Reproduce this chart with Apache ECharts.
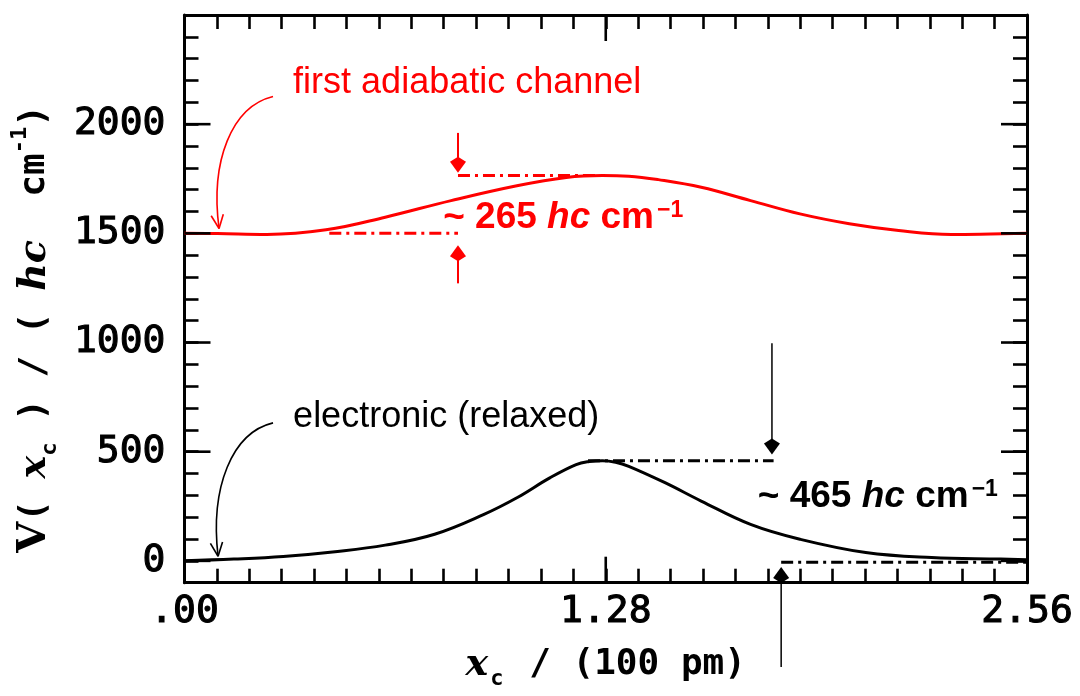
<!DOCTYPE html>
<html>
<head>
<meta charset="utf-8">
<script src="https://cdn.jsdelivr.net/npm/echarts@6/dist/echarts.min.js"></script>
<style>
  html, body { margin: 0; padding: 0; background: #fff; }
  #chart { width: 1080px; height: 696px; }
</style>
</head>
<body>
<div id="chart"></div>
<script>
// Reaction coordinate x_c in units of 100 pm, potentials V in hc cm^-1
const xLabelValues = [0, 1.28, 2.56];
const xLabelTexts = ['.00', '1.28', '2.56'];
const yLabelValues = [0, 500, 1000, 1500, 2000];

// first adiabatic channel
const adiabaticX = [0, 0.10, 0.25, 0.43, 0.61, 0.81, 1.01, 1.16, 1.27, 1.35, 1.44, 1.57, 1.72, 1.87, 2.02, 2.17, 2.33, 2.45, 2.56];
const adiabaticV = [1500, 1499, 1495, 1516, 1574, 1650, 1718, 1756, 1765, 1762, 1746, 1711, 1650, 1589, 1544, 1513, 1495, 1497, 1500];

// electronic (relaxed) potential
const electronicX = [0, 0.15, 0.30, 0.45, 0.61, 0.76, 0.91, 1.01, 1.11, 1.19, 1.23, 1.27, 1.31, 1.35, 1.46, 1.57, 1.72, 1.87, 2.07, 2.27, 2.48, 2.56];
const electronicV = [0, 8, 20, 41, 72, 122, 213, 289, 380, 441, 455, 459, 452, 433, 358, 274, 167, 99, 38, 15, 8, 5];

// barrier heights quoted in the annotations
const adiabaticBase = 1500;
const adiabaticBarrier = 265;
const electronicBase = -6;
const electronicBarrier = 465;

const RED = '#ff0000';
const BLACK = '#000000';

const xMin = 0, xMax = 2.56, xStep = 2.56 / 26;
const yMin = -100, yMax = 2500, yStep = 100;

const zip = (xs, ys) => xs.map((x, i) => [x, ys[i]]);

// annotation geometry, in data coordinates
const layout = {
  pointers: [
    { color: RED,   p: [[0.269, 2127], [0.144, 2081], [0.0775, 1832], [0.105, 1522]] },
    { color: BLACK, p: [[0.269, 632],  [0.144, 587],  [0.0775, 336],  [0.102, 21]] }
  ],
  gapArrows: [
    { color: RED,   x: 0.831, from: 1960, to: adiabaticBase + adiabaticBarrier + 13, w: 2 },
    { color: RED,   x: 0.831, from: 1271, to: adiabaticBase - 55, w: 2 },
    { color: BLACK, x: 1.785, from: 997,  to: electronicBase + electronicBarrier + 28, w: 1.5 },
    { color: BLACK, x: 1.813, from: -486, to: electronicBase - 22, w: 1.5 }
  ],
  levels: [
    { color: RED,   x0: 0.831, x1: 1.263, y: adiabaticBase + adiabaticBarrier },
    { color: RED,   x0: 0.44,  x1: 0.831, y: adiabaticBase },
    { color: BLACK, x0: 1.226, x1: 1.79,  y: electronicBase + electronicBarrier },
    { color: BLACK, x0: 1.813, x1: 2.56,  y: electronicBase }
  ],
  labels: [
    { at: [0.33, 2186], color: RED, text: 'first adiabatic channel' },
    { at: [0.33, 658], color: BLACK, text: 'electronic (relaxed)' }
  ],
  barrierLabels: [
    { at: [0.786, 1572], color: RED, value: adiabaticBarrier },
    { at: [1.742, 295], color: BLACK, value: electronicBarrier }
  ]
};

function line(a, b, style) {
  return { type: 'line', shape: { x1: a[0], y1: a[1], x2: b[0], y2: b[1] }, style: style };
}

function kiteHead(tail, tip, color) {
  const dx = tip[0] - tail[0], dy = tip[1] - tail[1];
  const L = Math.hypot(dx, dy) || 1;
  const ux = dx / L, uy = dy / L, nx = -uy, ny = ux;
  const w = 8, wb = 11, back = 16;
  return {
    type: 'polygon',
    shape: { points: [
      tip,
      [tip[0] - ux * wb + nx * w, tip[1] - uy * wb + ny * w],
      [tip[0] - ux * back, tip[1] - uy * back],
      [tip[0] - ux * wb - nx * w, tip[1] - uy * wb - ny * w]
    ] },
    style: { fill: color }
  };
}

function renderNotes(params, api) {
  const c = (p) => api.coord(p);
  const children = [];

  layout.levels.forEach(l => {
    children.push(line(c([l.x0, l.y]), c([l.x1, l.y]),
      { stroke: l.color, lineWidth: 3, lineDash: [12, 5, 3, 5] }));
  });

  layout.gapArrows.forEach(a => {
    const tail = c([a.x, a.from]), tip = c([a.x, a.to]);
    const dir = Math.sign(tip[1] - tail[1]);
    children.push(line(tail, [tip[0], tip[1] - dir * 12], { stroke: a.color, lineWidth: a.w }));
    children.push(kiteHead(tail, tip, a.color));
  });

  layout.pointers.forEach(pt => {
    const [p0, p1, p2, p3] = pt.p.map(c);
    children.push({
      type: 'bezierCurve',
      shape: { x1: p0[0], y1: p0[1], cpx1: p1[0], cpy1: p1[1], cpx2: p2[0], cpy2: p2[1], x2: p3[0], y2: p3[1] },
      style: { stroke: pt.color, lineWidth: 1.6, fill: null }
    });
    const dx = p3[0] - p2[0], dy = p3[1] - p2[1];
    const ang = Math.atan2(dy, dx);
    [0.42, -0.42].forEach(s => {
      const a = ang + Math.PI + s;
      children.push(line(p3, [p3[0] + 15 * Math.cos(a), p3[1] + 15 * Math.sin(a)],
        { stroke: pt.color, lineWidth: 1.6 }));
    });
  });

  layout.labels.forEach(t => {
    const p = c(t.at);
    children.push({
      type: 'text',
      style: { x: p[0], y: p[1], text: t.text, fill: t.color, align: 'left', verticalAlign: 'middle',
               font: '36px "Liberation Sans", Arial, sans-serif' }
    });
  });

  layout.barrierLabels.forEach(t => {
    const p = c(t.at);
    const base = { fill: t.color, fontFamily: '"Liberation Sans", Arial, sans-serif', fontWeight: 'bold' };
    children.push({
      type: 'text',
      style: {
        x: p[0], y: p[1], align: 'left', verticalAlign: 'middle',
        text: '{n|~ ' + t.value + ' }{i|hc}{n| cm}{s|\u22121}',
        rich: {
          n: Object.assign({ fontSize: 37 }, base),
          i: Object.assign({ fontSize: 37, fontStyle: 'italic' }, base),
          s: Object.assign({ fontSize: 23, verticalAlign: 'top', padding: [0, 0, 0, 3] }, base)
        }
      }
    });
  });

  return { type: 'group', children: children };
}

// longer ticks at the labelled values, on all four sides
function renderMajorTicks(params, api) {
  const children = [];
  const st = { stroke: BLACK, lineWidth: 2.6 };
  const len = 26;
  yLabelValues.forEach(v => {
    const l = api.coord([xMin, v]), r = api.coord([xMax, v]);
    children.push(line(l, [l[0] + len, l[1]], st));
    children.push(line(r, [r[0] - len, r[1]], st));
  });
  xLabelValues.slice(1, -1).forEach(v => {
    const b = api.coord([v, yMin]), t = api.coord([v, yMax]);
    children.push(line(b, [b[0], b[1] - len], st));
    children.push(line(t, [t[0], t[1] + len], st));
  });
  return { type: 'group', children: children };
}

const near = (a, b) => Math.abs(a - b) < 1e-6;
const monoFont = '"DejaVu Sans Mono", monospace';

const xAxisCommon = {
  type: 'value', min: xMin, max: xMax, interval: xStep,
  axisLine: { show: true, onZero: false, lineStyle: { color: BLACK, width: 3 } },
  axisTick: { show: true, inside: true, length: 14, lineStyle: { color: BLACK, width: 2.6 } },
  splitLine: { show: false }
};
const yAxisCommon = {
  type: 'value', min: yMin, max: yMax, interval: yStep,
  axisLine: { show: true, onZero: false, lineStyle: { color: BLACK, width: 3 } },
  axisTick: { show: true, inside: true, length: 14, lineStyle: { color: BLACK, width: 2.6 } },
  splitLine: { show: false }
};

const tickLabelStyle = {
  color: BLACK, fontFamily: monoFont, fontSize: 38,
  textBorderColor: BLACK, textBorderWidth: 1.1
};

const chart = echarts.init(document.getElementById('chart'), null, { renderer: 'canvas' });
chart.setOption({
  animation: false,
  backgroundColor: '#fff',
  grid: { left: 184.5, right: 53, top: 15, bottom: 113.3, containLabel: false },
  xAxis: [
    Object.assign({}, xAxisCommon, {
      position: 'bottom',
      axisLabel: Object.assign({
        margin: 10, showMinLabel: true, showMaxLabel: true,
        formatter: v => {
          const i = xLabelValues.findIndex(x => near(x, v));
          return i >= 0 ? xLabelTexts[i] : '';
        }
      }, tickLabelStyle),
      name: '{i|x}{sub|c}{m| / (100 pm)}',
      nameLocation: 'middle', nameGap: 56,
      nameTextStyle: {
        rich: {
          i: { fontFamily: '"DejaVu Serif", serif', fontStyle: 'italic', fontWeight: 'bold', fontSize: 38, lineHeight: 52, color: BLACK },
          sub: { fontFamily: monoFont, fontWeight: 'bold', fontSize: 22, verticalAlign: 'bottom', color: BLACK, padding: [0, 4, 0, 2] },
          m: { fontFamily: monoFont, fontWeight: 'bold', fontSize: 36, lineHeight: 52, color: BLACK }
        }
      }
    }),
    Object.assign({}, xAxisCommon, { position: 'top', axisLabel: { show: false } })
  ],
  yAxis: [
    Object.assign({}, yAxisCommon, {
      position: 'left',
      axisLabel: Object.assign({
        margin: 19,
        formatter: v => (yLabelValues.some(y => near(y, v)) ? String(v) : '')
      }, tickLabelStyle)
    }),
    Object.assign({}, yAxisCommon, { position: 'right', axisLabel: { show: false } })
  ],
  graphic: [{
    type: 'text', x: 35, y: 329, rotation: Math.PI / 2,
    style: {
      align: 'center', verticalAlign: 'middle',
      text: '{v|V}{m|( }{i|x}{sub|c}{m| ) / ( }{i|hc}{m|  cm}{sup|-1}{m|)}',
      rich: {
        v: { fontFamily: '"DejaVu Serif", serif', fontWeight: 'bold', fontSize: 40, lineHeight: 52, fill: BLACK },
        i: { fontFamily: '"DejaVu Serif", serif', fontStyle: 'italic', fontWeight: 'bold', fontSize: 38, lineHeight: 52, fill: BLACK },
        m: { fontFamily: monoFont, fontWeight: 'bold', fontSize: 36, lineHeight: 52, fill: BLACK },
        sub: { fontFamily: monoFont, fontWeight: 'bold', fontSize: 22, verticalAlign: 'bottom', fill: BLACK },
        sup: { fontFamily: monoFont, fontWeight: 'bold', fontSize: 22, verticalAlign: 'top', fill: BLACK }
      }
    }
  }],
  series: [
    {
      name: 'first adiabatic channel', type: 'line', data: zip(adiabaticX, adiabaticV),
      smooth: 0.4, showSymbol: false, symbol: 'none',
      lineStyle: { color: RED, width: 3 }, z: 3
    },
    {
      name: 'electronic (relaxed)', type: 'line', data: zip(electronicX, electronicV),
      smooth: 0.4, showSymbol: false, symbol: 'none',
      lineStyle: { color: BLACK, width: 3 }, z: 3
    },
    {
      type: 'custom', renderItem: renderMajorTicks, data: [[0, 0]], silent: true, clip: false, z: 4
    },
    {
      type: 'custom', renderItem: renderNotes, data: [[0, 0]], silent: true, clip: false, z: 5
    }
  ]
});
</script>
</body>
</html>
